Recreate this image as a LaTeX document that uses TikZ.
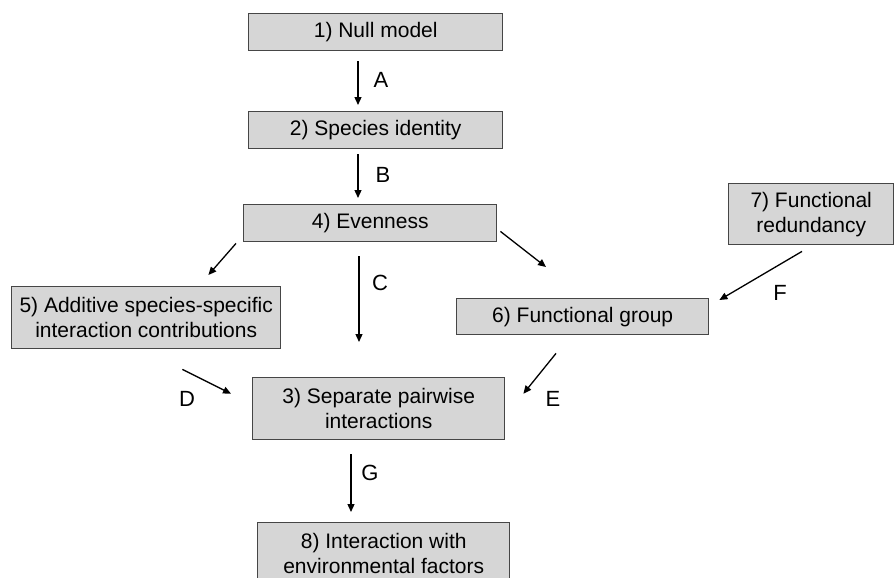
\documentclass[tikz,border=0pt]{standalone}
\usepackage{fontspec}
\setmainfont{Liberation Sans}
\usetikzlibrary{arrows.meta,calc}
\definecolor{boxfill}{RGB}{214,214,214}
\definecolor{boxline}{RGB}{70,70,70}
\begin{document}
\begin{tikzpicture}[x=1pt,y=-1pt,
  box/.style={draw=boxline,fill=boxfill,line width=1.4pt,anchor=north west,inner sep=0pt,align=center,font=\fontsize{21}{25}\selectfont},
  arr/.style={line width=1.3pt,-{Triangle[length=8pt,width=7pt]}},
  lbl/.style={font=\fontsize{22}{24}\selectfont,inner sep=0pt}]
\useasboundingbox (0,0) rectangle (894,578);
\clip (0,0) rectangle (894,578);
\node[box,minimum width=254,minimum height=37] (n1) at (248,13) {1) Null model};
\node[box,minimum width=254,minimum height=37] (n2) at (248,111) {2) Species identity};
\node[box,minimum width=253,minimum height=37] (n4) at (243,204) {4) Evenness};
\node[box,minimum width=269,minimum height=62] (n5) at (11,286) {5) Additive species-specific\\interaction contributions};
\node[box,minimum width=252,minimum height=36] (n6) at (456,298) {6) Functional group};
\node[box,minimum width=165,minimum height=61] (n7) at (728,183) {7) Functional\\redundancy};
\node[box,minimum width=252,minimum height=62] (n3) at (252,377) {3) Separate pairwise\\interactions};
\node[box,minimum width=252,minimum height=62] (n8) at (257,522) {8) Interaction with\\environmental factors};
\draw[arr] ($(n1.south west)+(110,10)$) -- ($(n2.north west)+(110,-6)$);
\draw[arr] ($(n2.south west)+(110,5)$) -- ($(n4.north west)+(115,-6)$);
\draw[arr] ($(n4.south west)+(-7,1)$) -- ($(n5.north east)+(-73,-11)$);
\draw[arr] ($(n4.south west)+(116,14)$) -- ($(n3.north west)+(107,-35)$);
\draw[arr] ($(n4.south east)+(3,-11)$) -- ($(n6.north west)+(90,-31)$);
\draw[arr] ($(n7.south west)+(74,6)$) -- ($(n6.north east)+(10,2)$);
\draw[arr] ($(n5.south east)+(-99,20)$) -- ($(n3.west)+(-21,-15)$);
\draw[arr] ($(n6.south west)+(100,18)$) -- ($(n3.east)+(18,-15)$);
\draw[arr] ($(n3.south west)+(99,14)$) -- ($(n8.north west)+(94,-10)$);
\node[lbl] (la) at (381,80) {A};
\node[lbl] (lb) at (383,175) {B};
\node[lbl] (lc) at (380,283) {C};
\node[lbl] (lf) at (780,293) {F};
\node[lbl] (ld) at (187,399) {D};
\node[lbl] (le) at (553,399) {E};
\node[lbl] (lg) at (370,473) {G};
\end{tikzpicture}
\end{document}
